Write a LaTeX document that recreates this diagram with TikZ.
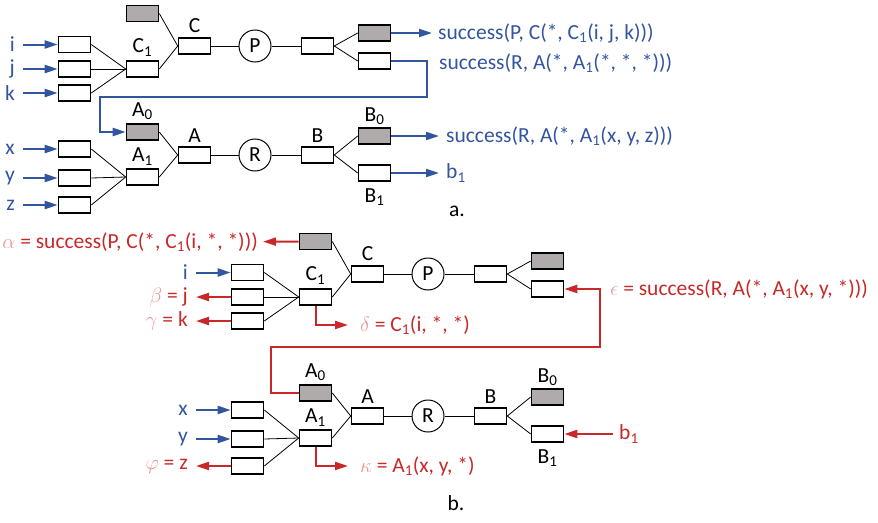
\documentclass[tikz,border=0pt]{standalone}
\usepackage{fontspec}
\setmainfont{Carlito}
\usetikzlibrary{arrows.meta}
\definecolor{ablue}{RGB}{50,85,160}
\definecolor{ared}{RGB}{200,40,40}
\definecolor{apale}{RGB}{238,150,150}
\definecolor{agray}{RGB}{175,171,171}
\newcommand\fsz{\fontsize{21.5}{25}\selectfont}
\tikzset{
 box/.style={draw=black, line width=1.6pt, minimum width=32pt, minimum height=16pt, inner sep=0pt, fill=white},
 gbox/.style={box, fill=agray},
 op/.style={circle, draw=black, line width=1pt, minimum size=32pt, inner sep=0pt, font=\fsz},
 lbl/.style={inner sep=1pt, font=\fsz},
 txt/.style={inner sep=0pt, font=\fsz},
 inlbl/.style={txt, anchor=east, inner xsep=8pt},
 wire/.style={draw=black, line width=0.8pt},
 barrow/.style={draw=ablue, line width=2pt, -{Triangle[length=13pt,width=8pt]}},
 rarrow/.style={draw=ared, line width=2pt, -{Triangle[length=13pt,width=8pt]}},
}
\newcommand\topTree[3]{%
\begin{scope}[shift={(#2,#3)}]
 \node[gbox] (#1c0) at (142.5,13.5) {};
 \node[box] (#1i) at (74.5,44.5) {};
 \node[box] (#1j) at (74.5,69) {};
 \node[box] (#1k) at (74.5,93) {};
 \node[box] (#1c1) at (142.5,69) {};
 \node[box] (#1c) at (194.5,46) {};
 \node[op] (#1p) at (255,46) {P};
 \node[box] (#1o) at (317.5,46) {};
 \node[gbox] (#1g) at (374.5,33) {};
 \node[box] (#1w) at (374.5,61) {};
 \node[lbl, above=3pt] (#1lc1) at (#1c1.north) {C\textsubscript{1}};
 \node[lbl, above=3pt] (#1lc) at (#1c.north) {C};
 \draw[wire] (#1i.east) -- (#1c1.west);
 \draw[wire] (#1j.east) -- (#1c1.west);
 \draw[wire] (#1k.east) -- (#1c1.west);
 \draw[wire] (#1c1.east) -- (#1c.west);
 \draw[wire] (#1c0.east) -- (#1c.west);
 \draw[wire] (#1c) -- (#1p);
 \draw[wire] (#1p) -- (#1o);
 \draw[wire] (#1o.east) -- (#1g.west);
 \draw[wire] (#1o.east) -- (#1w.west);
\end{scope}}
\newcommand\botTree[3]{%
\begin{scope}[shift={(#2,#3)}]
 \node[gbox] (#1a0) at (142.5,132) {};
 \node[box] (#1x) at (74.5,149) {};
 \node[box] (#1y) at (74.5,178) {};
 \node[box] (#1z) at (74.5,205) {};
 \node[box] (#1a1) at (142.5,177) {};
 \node[box] (#1a) at (194.5,155) {};
 \node[op] (#1r) at (255,155) {R};
 \node[box] (#1b) at (317.5,155) {};
 \node[gbox] (#1b0) at (374.5,136) {};
 \node[box] (#1b1) at (374.5,173) {};
 \node[lbl, above=2pt] (#1la0) at (#1a0.north) {A\textsubscript{0}};
 \node[lbl, above=2pt] (#1la1) at (#1a1.north) {A\textsubscript{1}};
 \node[lbl, above=3pt] (#1la) at (#1a.north) {A};
 \node[lbl, above=3pt] (#1lb) at (#1b.north) {B};
 \node[lbl, above=1pt] (#1lb0) at (#1b0.north) {B\textsubscript{0}};
 \node[lbl, below=6pt] (#1lb1) at (#1b1.south) {B\textsubscript{1}};
 \draw[wire] (#1x.east) -- (#1a1.west);
 \draw[wire] (#1y.east) -- (#1a1.west);
 \draw[wire] (#1z.east) -- (#1a1.west);
 \draw[wire] (#1a1.east) -- (#1a.west);
 \draw[wire] (#1a0.east) -- (#1a.west);
 \draw[wire] (#1a) -- (#1r);
 \draw[wire] (#1r) -- (#1b);
 \draw[wire] (#1b.east) -- (#1b0.west);
 \draw[wire] (#1b.east) -- (#1b1.west);
\end{scope}}
\begin{document}
\begin{tikzpicture}[x=1pt,y=-1pt]
\useasboundingbox (0,0) rectangle (878,522);
% ---------- part a ----------
\topTree{at}{0}{0}
\botTree{ab}{0}{0}
\node[inlbl, text=ablue] (ali) at (23,44.5) {i};
\node[inlbl, text=ablue] (alj) at (23,69) {j};
\node[inlbl, text=ablue] (alk) at (23,93) {k};
\draw[barrow] (ali) -- (ati);
\draw[barrow] (alj) -- (atj);
\draw[barrow] (alk) -- (atk);
\node[inlbl, text=ablue] (alx) at (23,149) {x};
\node[inlbl, text=ablue] (aly) at (23,178) {y};
\node[inlbl, text=ablue] (alz) at (23,205) {z};
\draw[barrow] (alx) -- (abx);
\draw[barrow] (aly) -- (aby);
\draw[barrow] (alz) -- (abz);
\node[txt, anchor=west, inner xsep=6pt, text=ablue] (atx1) at (432,33) {success(P, C(*, C\textsubscript{1}(i, j, k)))};
\draw[barrow] (atg) -- (atx1);
\node[txt, anchor=west, text=ablue] (atx2) at (439,63) {success(R, A(*, A\textsubscript{1}(*, *, *)))};
\coordinate (al1) at (427,97);
\coordinate (al2) at (100,97);
\draw[barrow] (atw.east) -| (al1) -- (al2) |- (aba0.west);
\node[txt, anchor=west, inner xsep=7pt, text=ablue] (atx3) at (439,136) {success(R, A(*, A\textsubscript{1}(x, y, z)))};
\draw[barrow] (abb0) -- (atx3);
\node[txt, anchor=west, inner xsep=7pt, text=ablue] (atx4) at (439,173) {b\textsubscript{1}};
\draw[barrow] (abb1) -- (atx4);
\node[txt] (capa) at (457,211) {a.};
% ---------- part b ----------
\topTree{bt}{173}{228}
\botTree{bb}{173}{261}
\node[txt, anchor=east, inner xsep=5pt, text=ared] (balpha) at (263,242) {{\color{apale}$\alpha$} = success(P, C(*, C\textsubscript{1}(i, *, *)))};
\draw[rarrow] (btc0) -- (balpha);
\node[inlbl, text=ablue] (bli) at (196,272.5) {i};
\draw[barrow] (bli) -- (bti);
\node[inlbl, text=ared] (blbeta) at (196,297) {{\color{apale}$\beta$} = j};
\draw[rarrow] (btj) -- (blbeta);
\node[inlbl, text=ared] (blgamma) at (196,321) {{\color{apale}$\gamma$} = k};
\draw[rarrow] (btk) -- (blgamma);
\coordinate (bdc) at (315.5,325);
\node[txt, anchor=west, inner xsep=12pt, text=ared] (bdelta) at (348,325) {{\color{apale}$\delta$} = C\textsubscript{1}(i, *, *)};
\draw[rarrow] (btc1.south) -- (bdc) -- (bdelta);
\coordinate (be1) at (271,347);
\coordinate (be2) at (600,347);
\draw[rarrow] (bba0.west) -| (be1) -- (be2) |- (btw.east);
\node[txt, anchor=west, text=ared] (beps) at (610,289.5) {{\color{apale}$\epsilon$} = success(R, A(*, A\textsubscript{1}(x, y, *)))};
\node[inlbl, text=ablue] (blx) at (196,410) {x};
\draw[barrow] (blx) -- (bbx);
\node[inlbl, text=ablue] (bly) at (196,439) {y};
\draw[barrow] (bly) -- (bby);
\node[inlbl, text=ared] (blphi) at (196,466) {{\color{apale}$\varphi$} = z};
\draw[rarrow] (bbz) -- (blphi);
\coordinate (bkc) at (315.5,466);
\node[txt, anchor=west, inner xsep=12pt, text=ared] (bkappa) at (348,466) {{\color{apale}$\kappa$} = A\textsubscript{1}(x, y, *)};
\draw[rarrow] (bba1.south) -- (bkc) -- (bkappa);
\node[txt, anchor=west, inner xsep=6pt, text=ared] (bb1t) at (613,434) {b\textsubscript{1}};
\draw[rarrow] (bb1t) -- (bbb1);
\node[txt] (capb) at (456,503) {b.};
\end{tikzpicture}
\end{document}
